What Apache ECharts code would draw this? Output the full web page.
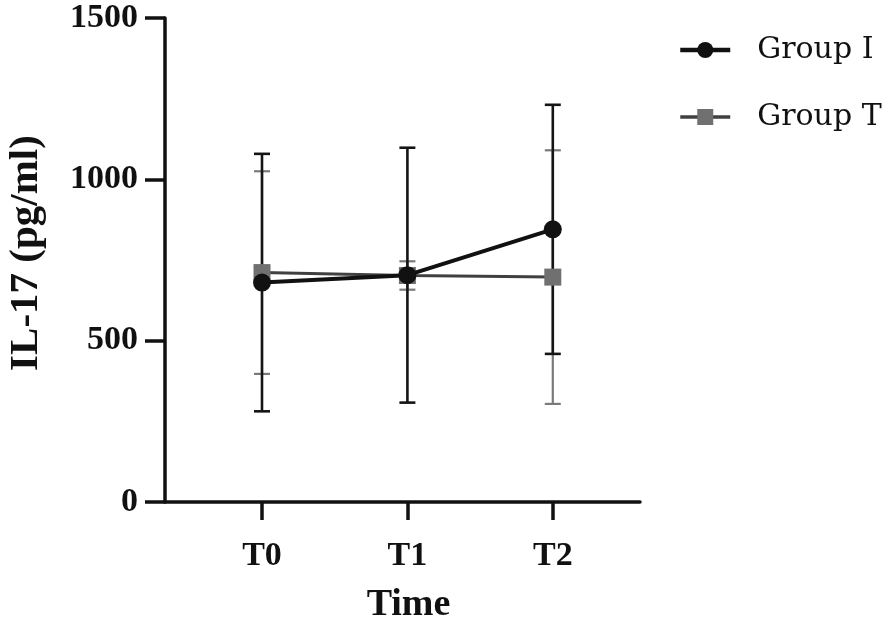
<!DOCTYPE html>
<html>
<head>
<meta charset="utf-8">
<script src="https://cdn.jsdelivr.net/npm/echarts@6/dist/echarts.min.js"></script>
<style>html,body{margin:0;padding:0;background:#fff}#c{width:894px;height:625px}</style>
</head>
<body>
<div id="c"></div>
<script>
const categories = ['T0', 'T1', 'T2'];
const yTicks = [0, 500, 1000, 1500];
const groupIMean = [680, 703, 845];
const groupISD = [399, 395, 386];
const groupTMean = [711, 702, 697];
const groupTSD = [314, 44, 393];
const seriesNames = ['Group I', 'Group T'];

// layout (pixels)
const W = 894, plotLeft = 165, plotRight = 640, plotTop = 18, plotBottom = 123;
const firstX = 262, step = 145.4;
const xMin = -(firstX - plotLeft) / step;
const xMax = (plotRight - firstX) / step;

const chart = echarts.init(document.getElementById('c'), null, {renderer: 'canvas'});

function errData(mean, sd) {
  return mean.map((m, i) => [i, m - sd[i], m + sd[i]]);
}
function lineData(mean) {
  return mean.map((m, i) => [i, m]);
}
function errorBar(color, width, cap) {
  return function (params, api) {
    const x = api.value(0);
    const lo = api.coord([x, api.value(1)]);
    const hi = api.coord([x, api.value(2)]);
    const st = {stroke: color, lineWidth: width};
    return {
      type: 'group',
      children: [
        {type: 'line', shape: {x1: lo[0], y1: lo[1], x2: hi[0], y2: hi[1]}, style: st},
        {type: 'line', shape: {x1: lo[0] - cap, y1: lo[1], x2: lo[0] + cap, y2: lo[1]}, style: st},
        {type: 'line', shape: {x1: hi[0] - cap, y1: hi[1], x2: hi[0] + cap, y2: hi[1]}, style: st}
      ]
    };
  };
}

const serifB = {fontFamily: 'Liberation Serif', fontWeight: 'bold', color: '#111'};

chart.setOption({
  animation: false,
  backgroundColor: '#fff',
  grid: [
    {left: plotLeft, right: W - plotRight, top: plotTop, bottom: plotBottom, outerBoundsMode: 'none', containLabel: false},
    {left: firstX - step / 2, right: W - (firstX + step * (categories.length - 0.5)), top: plotTop, bottom: plotBottom, outerBoundsMode: 'none', containLabel: false}
  ],
  legend: {
    orient: 'vertical',
    left: 673, top: 29,
    itemWidth: 50, itemHeight: 20,
    itemGap: 35,
    data: [
      {name: seriesNames[0], lineStyle: {width: 4.5}},
      {name: seriesNames[1], lineStyle: {width: 3.5}}
    ],
    textStyle: {fontFamily: 'DejaVu Serif', fontSize: 30, color: '#111', lineHeight: 32, padding: [0, 0, 0, 22]}
  },
  xAxis: [
    {
      type: 'value', gridIndex: 0,
      min: xMin, max: xMax,
      name: 'Time', nameLocation: 'middle', nameGap: 84,
      nameTextStyle: Object.assign({fontSize: 38, padding: [0, 0, 0, 12]}, serifB),
      axisLine: {show: true, onZero: false, lineStyle: {color: '#111', width: 3.5}},
      axisTick: {show: false},
      axisLabel: {show: false},
      splitLine: {show: false}
    },
    {
      type: 'category', gridIndex: 1,
      data: categories, boundaryGap: true,
      axisLine: {show: false},
      axisTick: {show: true, alignWithLabel: true, length: 18, lineStyle: {color: '#111', width: 3.5}},
      axisLabel: Object.assign({fontSize: 34, margin: 37}, serifB),
      splitLine: {show: false}
    }
  ],
  yAxis: [
    {
      type: 'value', gridIndex: 0,
      min: 0, max: 1500, interval: 500,
      name: 'IL-17 (pg/ml)', nameLocation: 'middle', nameGap: 118, nameRotate: 90,
      nameTextStyle: Object.assign({fontSize: 41, padding: [0, 0, 0, 14]}, serifB),
      axisLine: {show: true, onZero: false, lineStyle: {color: '#111', width: 3.5}},
      axisTick: {show: true, length: 20, lineStyle: {color: '#111', width: 3.5}},
      axisLabel: Object.assign({fontSize: 34, margin: 27, formatter: v => String(v)}, serifB),
      splitLine: {show: false}
    },
    {
      type: 'value', gridIndex: 1, min: 0, max: 1500, show: false
    }
  ],
  series: [
    {
      type: 'custom', name: 'Group T err', z: 1, silent: true,
      renderItem: errorBar('#7a7a7a', 2.2, 8),
      data: errData(groupTMean, groupTSD),
      encode: {x: 0, y: [1, 2]}
    },
    {
      type: 'custom', name: 'Group I err', z: 2, silent: true,
      renderItem: errorBar('#151515', 2.6, 8),
      data: errData(groupIMean, groupISD),
      encode: {x: 0, y: [1, 2]}
    },
    {
      type: 'line', name: seriesNames[1], z: 3,
      data: lineData(groupTMean),
      symbol: 'rect', symbolSize: 17,
      lineStyle: {color: '#404040', width: 3},
      itemStyle: {color: '#707070', borderWidth: 0},
      emphasis: {disabled: true}
    },
    {
      type: 'line', name: seriesNames[0], z: 4,
      data: lineData(groupIMean),
      symbol: 'circle', symbolSize: 18,
      lineStyle: {color: '#111', width: 4},
      itemStyle: {color: '#111', borderWidth: 0},
      emphasis: {disabled: true}
    }
  ]
});
</script>
</body>
</html>
